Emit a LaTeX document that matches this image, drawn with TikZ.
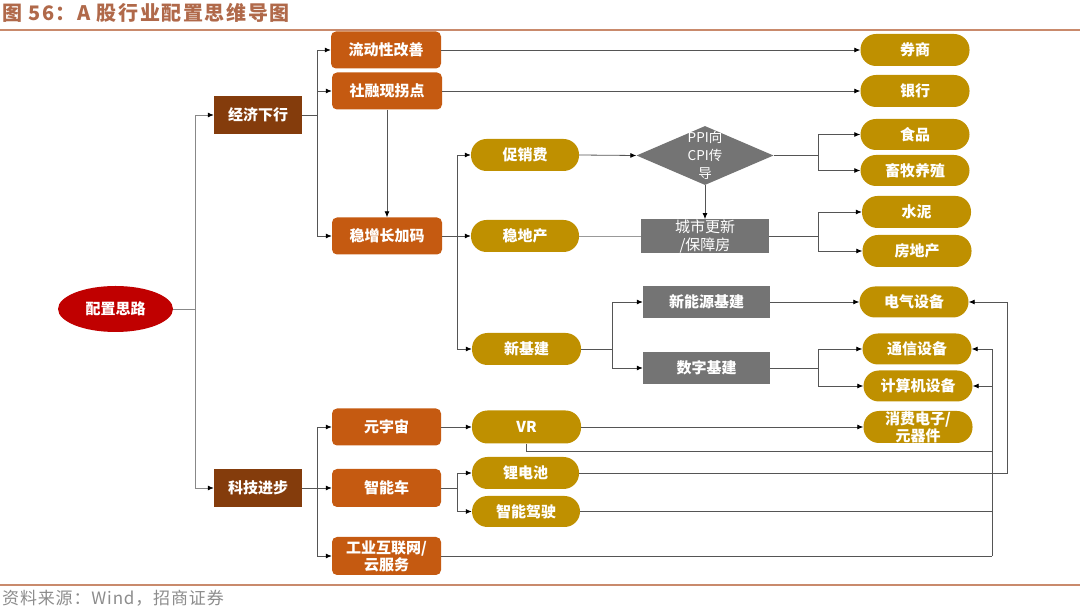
\documentclass[tikz,border=0pt]{standalone}
\usepackage{fontspec}
\newfontfamily\cjk{Noto Sans CJK SC}
\newfontfamily\cjktitle{Noto Sans CJK SC}[LetterSpace=8]
\newfontfamily\cjksrc{Noto Sans CJK SC}[LetterSpace=5]
\usetikzlibrary{arrows.meta,shapes.geometric}
\definecolor{orangec}{HTML}{C55A11}
\definecolor{brownc}{HTML}{843C0C}
\definecolor{goldc}{HTML}{BF9000}
\definecolor{grayc}{HTML}{747474}
\definecolor{redc}{HTML}{C00000}
\definecolor{linec}{HTML}{555555}
\definecolor{titlec}{HTML}{B0694A}
\definecolor{rulec}{HTML}{C98A6C}
\definecolor{srcc}{HTML}{8C8C8C}
\newcommand{\nodefont}{\fontsize{15}{17}\selectfont\cjk\bfseries}
\tikzset{
  ln/.style={draw=linec, line width=0.8pt},
  ar/.style={ln, -{Latex[length=6pt,width=5pt,color=black]}},
  base/.style={text=white, font=\nodefont, inner sep=0pt, align=center},
  obox/.style={base, fill=orangec, rounded corners=5pt, minimum width=110pt, minimum height=37pt},
  dbox/.style={base, fill=brownc, minimum width=88pt, minimum height=38pt},
  gbox/.style={base, fill=goldc, rounded corners=15.5pt, minimum width=109pt, minimum height=32pt},
  ybox/.style={base, fill=grayc, minimum width=127pt, minimum height=32pt},
}
\begin{document}
\begin{tikzpicture}[x=1pt,y=-1pt]
\useasboundingbox (0,0) rectangle (1080,609);
% title and rules
\node[anchor=west, text=titlec, font=\fontsize{20}{22}\selectfont\cjktitle\bfseries, inner sep=0pt] (title) at (2,13) {图 56：A 股行业配置思维导图};
\draw[rulec, line width=2pt] (0,30) -- (1080,30);
\draw[rulec, line width=1.5pt] (0,585) -- (1080,585);
\node[anchor=west, text=srcc, font=\fontsize{17}{19}\selectfont\cjksrc, inner sep=0pt] (src) at (2,598) {资料来源：Wind，招商证券};

% nodes
\node[base, fill=redc, ellipse, minimum width=115pt, minimum height=46pt] (root) at (115.5,309) {配置思路};
\node[dbox] (jj) at (258,115) {经济下行};
\node[dbox] (kj) at (258,488) {科技进步};

\node[obox] (ld) at (386,50) {流动性改善};
\node[obox] (sr) at (387,91) {社融现拐点};
\node[obox] (wz) at (387,236) {稳增长加码};
\node[obox, minimum width=109pt] (yy) at (386.5,427) {元宇宙};
\node[obox, minimum width=109pt, minimum height=38pt] (zn) at (386.5,488) {智能车};
\node[obox, minimum width=109pt, minimum height=38pt] (gy) at (386.5,556) {工业互联网/\\云服务};

\node[gbox] (qs) at (915,50) {券商};
\node[gbox] (yh) at (915,91) {银行};
\node[gbox, minimum height=31pt] (sp) at (915,134.5) {食品};
\node[gbox, minimum height=31pt] (xm) at (915,170.5) {畜牧养殖};
\node[gbox] (sn) at (916.5,212) {水泥};
\node[gbox] (fd) at (917,251) {房地产};
\node[gbox, minimum height=31pt] (dq) at (914,302) {电气设备};
\node[gbox, minimum height=31pt] (tx) at (917,349) {通信设备};
\node[gbox, minimum height=31pt] (js) at (918,386) {计算机设备};
\node[gbox] (xf) at (918,427) {消费电子/\\元器件};

\node[gbox, minimum width=108pt] (cx) at (525,155) {促销费};
\node[gbox, minimum width=108pt] (wd) at (525,236) {稳地产};
\node[gbox] (xj) at (526.5,349) {新基建};
\node[gbox, minimum height=33pt] (vr) at (526.5,427) {VR};
\node[gbox, minimum width=107pt] (lb) at (525.5,473) {锂电池};
\node[gbox, minimum width=108pt, minimum height=31pt] (zj) at (526,511.5) {智能驾驶};

\node[diamond, fill=grayc, inner sep=0pt, minimum width=137pt, minimum height=59pt] (dia) at (705,155.5) {};
\node[base, font=\fontsize{13.5}{18}\selectfont\cjk] (diat) at (dia) {PPI向\\CPI传\\导};
\node[ybox, minimum width=128pt, font=\fontsize{15}{18}\selectfont\cjk] (cs) at (705,236) {城市更新\\/保障房};
\node[ybox] (xn) at (706.5,302) {新能源基建};
\node[ybox] (sz) at (706.5,368) {数字基建};

% junction coordinates
\coordinate (r1) at (195,309);
\coordinate (e1) at (317,115);
\coordinate (w1) at (457,236);
\coordinate (d1) at (818,155.5);
\coordinate (c1) at (818,236);
\coordinate (n1) at (612,349);
\coordinate (s1) at (818,368);
\coordinate (k1) at (317,488);
\coordinate (z1) at (457,488);
\coordinate (q1) at (1007,473);
\coordinate (v1) at (526.5,451);
\coordinate (v2) at (992,451);
\coordinate (v3) at (992,511.5);
\coordinate (v4) at (992,556);

% connectors
\draw[ln, draw=linec!70] (root.east) -- (r1);
\draw[ar, draw=linec!70] (r1) |- (jj.west);
\draw[ar, draw=linec!70] (r1) |- (kj.west);

\draw[ln] (jj.east) -- (e1);
\draw[ar] (e1) |- (ld.west);
\draw[ar] (e1) |- (sr.west);
\draw[ar] (e1) |- (wz.west);
\draw[ar] (sr.south) -- (wz.north);
\draw[ar] (ld.east) -- (qs.west);
\draw[ar] (sr.east) -- (yh.west);

\draw[ln] (wz.east) -- (w1);
\draw[ar] (w1) |- (cx.west);
\draw[ar] (w1) |- (wd.west);
\draw[ar] (w1) |- (xj.west);

\draw[ar] (cx.east) -- (dia.west);
\draw[ln] (dia.east) -- (d1);
\draw[ar] (d1) |- (sp.west);
\draw[ar] (d1) |- (xm.west);
\draw[ar] (dia.south) -- (cs.north);
\draw[ln, draw=linec!60] (wd.east) -- (cs.west);
\draw[ln] (cs.east) -- (c1);
\draw[ar] (c1) |- (sn.west);
\draw[ar] (c1) |- (fd.west);

\draw[ln] (xj.east) -- (n1);
\draw[ar] (n1) |- (xn.west);
\draw[ar] (n1) |- (sz.west);
\draw[ar] (xn.east) -- (dq.west);
\draw[ln] (sz.east) -- (s1);
\draw[ar] (s1) |- (tx.west);
\draw[ar] (s1) |- (js.west);

\draw[ln] (kj.east) -- (k1);
\draw[ar] (k1) |- (yy.west);
\draw[ar] (k1) |- (zn.west);
\draw[ar] (k1) |- (gy.west);
\draw[ar] (yy.east) -- (vr.west);
\draw[ar] (vr.east) -- (xf.west);
\draw[ln] (zn.east) -- (z1);
\draw[ar] (z1) |- (lb.west);
\draw[ar] (z1) |- (zj.west);

\draw[ar] (lb.east) -- (q1) |- (dq.east);
\draw[ln] (vr.south) -- (v1) -- (v2);
\draw[ln] (zj.east) -- (v3);
\draw[ln] (gy.east) -- (v4);
\draw[ar] (v4) |- (tx.east);
\draw[ar] (v4) |- (js.east);
\end{tikzpicture}
\end{document}
